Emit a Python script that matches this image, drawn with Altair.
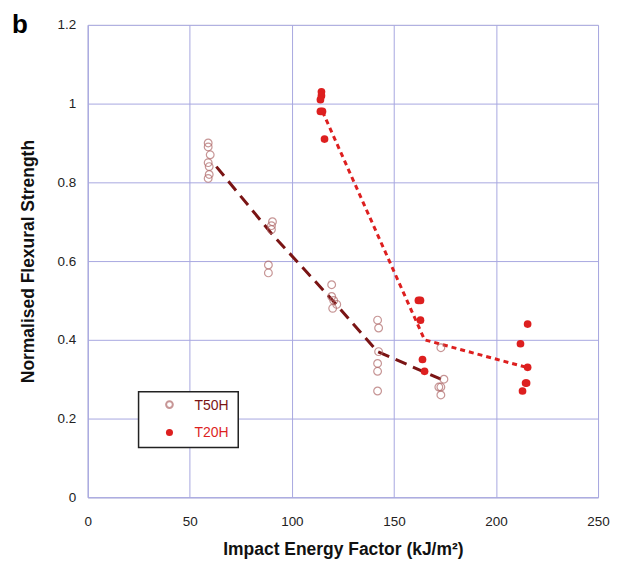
import altair as alt
import pandas as pd

# T50H open circles
t50_x = [59, 59, 60, 59, 59.5, 59.5, 59,
         88.5, 88.5, 90.5, 90, 90,
         119.5, 119.5, 120.5, 122, 120,
         142, 142.5, 142.5, 142, 142, 142,
         173, 174.5, 173, 172, 173]
t50_y = [0.90, 0.89, 0.87, 0.85, 0.84, 0.82, 0.81,
         0.59, 0.57, 0.70, 0.69, 0.68,
         0.54, 0.51, 0.50, 0.49, 0.48,
         0.45, 0.43, 0.37, 0.34, 0.32, 0.27,
         0.38, 0.30, 0.28, 0.28, 0.26]
# T20H filled circles
t20_x = [114.5, 114.5, 114, 114, 115, 116,
         162, 163, 163, 164, 165,
         215.5, 212, 215.5, 215, 214.5, 213]
t20_y = [1.03, 1.02, 1.01, 0.98, 0.98, 0.91,
         0.50, 0.50, 0.45, 0.35, 0.32,
         0.44, 0.39, 0.33, 0.29, 0.29, 0.27]
# trend lines
t50_line_x = [63, 90, 120, 142, 173]
t50_line_y = [0.84, 0.67, 0.50, 0.37, 0.30]
t20_line_x = [115, 165, 215]
t20_line_y = [0.98, 0.40, 0.33]

x_ticks = [0, 50, 100, 150, 200, 250]
y_ticks = [0, 0.2, 0.4, 0.6, 0.8, 1.0, 1.2]

DARK = "#7a1414"
OPEN = "#b06a6a"
RED = "#dd1f1f"
GRID = "#a8a8e0"

df50 = pd.DataFrame({"x": t50_x, "y": t50_y})
df20 = pd.DataFrame({"x": t20_x, "y": t20_y})
dl50 = pd.DataFrame({"x": t50_line_x, "y": t50_line_y})
dl20 = pd.DataFrame({"x": t20_line_x, "y": t20_line_y})

xs = alt.Scale(domain=[0, 250], nice=False)
ys = alt.Scale(domain=[0, 1.2], nice=False)

xax = alt.Axis(values=x_ticks, title="Impact Energy Factor (kJ/m²)", grid=True,
               gridColor=GRID, gridWidth=1, domainColor=GRID, ticks=False,
               labelPadding=17, labelFontSize=13.5, labelColor="#222",
               labelFont="Liberation Sans", titleFont="Liberation Sans",
               titleFontSize=17.5, titleFontWeight="bold", titlePadding=13,
               titleColor="#111", labelFlush=False)
yax = alt.Axis(values=y_ticks, title="Normalised Flexural Strength", grid=True,
               gridColor=GRID, gridWidth=1, domainColor=GRID, ticks=False,
               labelPadding=12, labelFontSize=13.5, labelColor="#222",
               labelFont="Liberation Sans", titleFont="Liberation Sans",
               titleFontSize=17.5, titleFontWeight="bold", titlePadding=20,
               titleColor="#111", labelFlush=False,
               labelExpr="datum.value == 1 ? '1' : (datum.value == 0 ? '0' : format(datum.value, '.1f'))")

base_axes = alt.Chart(df50).mark_point(opacity=0).encode(
    x=alt.X("x:Q", scale=xs, axis=xax),
    y=alt.Y("y:Q", scale=ys, axis=yax),
)

line50 = alt.Chart(dl50).mark_line(color=DARK, strokeWidth=3, strokeDash=[12, 7]).encode(
    x=alt.X("x:Q", scale=xs), y=alt.Y("y:Q", scale=ys))
line20 = alt.Chart(dl20).mark_line(color=RED, strokeWidth=3, strokeDash=[5, 4]).encode(
    x=alt.X("x:Q", scale=xs), y=alt.Y("y:Q", scale=ys))

pts50 = alt.Chart(df50).mark_point(shape="circle", filled=False, color=OPEN,
                                   size=60, strokeWidth=1.2).encode(
    x=alt.X("x:Q", scale=xs), y=alt.Y("y:Q", scale=ys))
pts20 = alt.Chart(df20).mark_point(shape="circle", filled=True, color=RED,
                                   size=60, opacity=1).encode(
    x=alt.X("x:Q", scale=xs), y=alt.Y("y:Q", scale=ys))

one = pd.DataFrame({"a": [0]})
leg_box = alt.Chart(one).mark_rect(fill="white", stroke="#222", strokeWidth=1.5).encode(
    x=alt.value(51), x2=alt.value(151), y=alt.value(368), y2=alt.value(424))
leg_p50 = alt.Chart(one).mark_point(shape="circle", filled=False, color=OPEN, size=45).encode(
    x=alt.value(82), y=alt.value(381))
leg_p20 = alt.Chart(one).mark_point(shape="circle", filled=True, color=RED, size=50, opacity=1).encode(
    x=alt.value(82), y=alt.value(409))
leg_t50 = alt.Chart(pd.DataFrame({"t": ["T50H"]})).mark_text(
    align="left", baseline="middle", fontSize=14, font="Liberation Sans", color=DARK).encode(
    x=alt.value(107), y=alt.value(382), text="t:N")
leg_t20 = alt.Chart(pd.DataFrame({"t": ["T20H"]})).mark_text(
    align="left", baseline="middle", fontSize=14, font="Liberation Sans", color=RED).encode(
    x=alt.value(107), y=alt.value(410), text="t:N")
panel = alt.Chart(pd.DataFrame({"t": ["b"]})).mark_text(
    align="left", baseline="middle", fontSize=26, fontWeight="bold", font="Liberation Sans",
    color="#000").encode(x=alt.value(-76), y=alt.value(0), text="t:N")

chart = alt.layer(base_axes, line50, line20, pts50, pts20, leg_box, leg_p50, leg_p20,
                  leg_t50, leg_t20, panel).properties(
    width=512, height=474,
    autosize=alt.AutoSizeParams(type="none"),
    padding={"left": 80, "top": 16, "right": 14, "bottom": 62},
).configure_view(stroke=GRID, strokeWidth=1).configure(background="white")

chart.save("out.html", embed_options={"renderer": "svg", "actions": False})
